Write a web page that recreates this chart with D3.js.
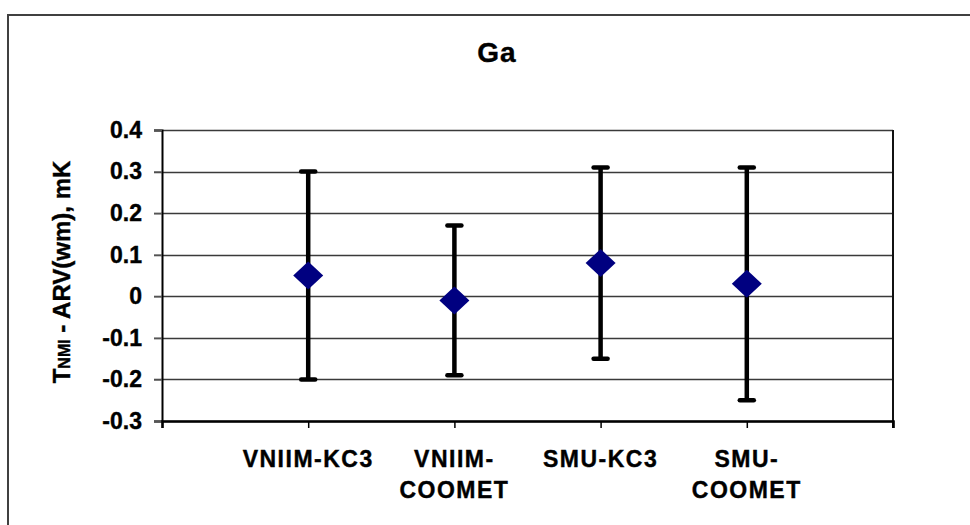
<!DOCTYPE html>
<html>
<head>
<meta charset="utf-8">
<script src="https://d3js.org/d3.v7.min.js"></script>
<style>
  body { margin: 0; background: #fff; }
  text { font-family: "Liberation Sans", Arial, sans-serif; font-weight: bold; fill: #000; stroke: #000; stroke-width: 0.4px; }
</style>
</head>
<body>
<div id="chart"></div>
<script>

// data
var categories = ["VNIIM-KC3", "VNIIM-COOMET", "SMU-KC3", "SMU-COOMET"];
var labelLines = [["VNIIM-KC3"], ["VNIIM-", "COOMET"], ["SMU-KC3"], ["SMU-", "COOMET"]];
var values = [0.05, -0.01, 0.08, 0.03];
var upper  = [0.30, 0.17, 0.31, 0.31];
var lower  = [-0.20, -0.19, -0.15, -0.25];
var yTicks = [-0.3, -0.2, -0.1, 0, 0.1, 0.2, 0.3, 0.4];

var width = 970, height = 525;
var margin = {top: 130, right: 77, bottom: 104, left: 162};

var svg = d3.select("#chart")
  .append("svg")
    .attr("width", width)
    .attr("height", height);

// outer chart frame (runs off the right/bottom edge)
svg.append("rect")
  .attr("x", 8).attr("y", 15)
  .attr("width", 1000).attr("height", 600)
  .attr("fill", "none")
  .attr("stroke", "#404040")
  .attr("stroke-width", 2);

// x: category positions sit on ticks 1..4 of a 0..5 axis
var x = d3.scaleLinear().domain([0, categories.length + 1]).range([margin.left, width - margin.right]);
var y = d3.scaleLinear().domain([-0.3, 0.4]).range([height - margin.bottom, margin.top]);

// gridlines
svg.append("g")
  .selectAll("line")
  .data(yTicks)
  .enter().append("line")
    .attr("x1", margin.left - 8)
    .attr("x2", width - margin.right)
    .attr("y1", function(d) { return Math.round(y(d)) + 0.5; })
    .attr("y2", function(d) { return Math.round(y(d)) + 0.5; })
    .attr("stroke", "#3a3a3a")
    .attr("stroke-width", 1.5);

// right border of plot area
svg.append("line")
  .attr("x1", width - margin.right).attr("x2", width - margin.right)
  .attr("y1", y(0.4)).attr("y2", y(-0.3) + 7)
  .attr("stroke", "#111").attr("stroke-width", 2);

// y axis
var yAxis = svg.append("g")
  .attr("transform", "translate(" + margin.left + ",0)")
  .call(d3.axisLeft(y).tickValues(yTicks).tickSize(8).tickPadding(12)
        .tickFormat(function(d) { return d === 0 ? "0" : d3.format(".1f")(d).replace("\u2212", "-"); }));
yAxis.select(".domain").attr("stroke", "#000").attr("stroke-width", 2);
yAxis.selectAll(".tick line").attr("stroke", "#555").attr("stroke-width", 1.5);
yAxis.selectAll(".tick text")
  .style("font-size", "23px")
  .style("font-family", "'Liberation Sans', Arial, sans-serif")
  .style("font-weight", "bold")
  .attr("fill", "#000");

// x axis
var xAxis = svg.append("g")
  .attr("transform", "translate(0," + y(-0.3) + ")")
  .call(d3.axisBottom(x).tickValues(d3.range(0, categories.length + 2)).tickSize(7).tickFormat(""));
xAxis.select(".domain").attr("stroke", "#000").attr("stroke-width", 2.5);
xAxis.selectAll(".tick line").attr("stroke", "#000").attr("stroke-width", 1.5);

// category labels
var lbl = svg.append("g")
  .selectAll("text")
  .data(labelLines)
  .enter().append("text")
    .attr("text-anchor", "middle")
    .style("font-size", "23px")
    .style("letter-spacing", "1.5px")
    .attr("y", 467);
lbl.selectAll("tspan")
  .data(function(d, i) { return d.map(function(t) { return {t: t, i: i}; }); })
  .enter().append("tspan")
    .attr("x", function(d) { return x(d.i + 1); })
    .attr("dy", function(d, j) { return j === 0 ? 0 : 31; })
    .text(function(d) { return d.t; });

// error bars
var bars = svg.append("g");
bars.selectAll(".stem")
  .data(values)
  .enter().append("line")
    .attr("x1", function(d, i) { return x(i + 1); })
    .attr("x2", function(d, i) { return x(i + 1); })
    .attr("y1", function(d, i) { return y(upper[i]); })
    .attr("y2", function(d, i) { return y(lower[i]); })
    .attr("stroke", "#000").attr("stroke-width", 4.5);
[upper, lower].forEach(function(arr) {
  bars.selectAll(null)
    .data(arr)
    .enter().append("line")
      .attr("x1", function(d, i) { return x(i + 1) - 7; })
      .attr("x2", function(d, i) { return x(i + 1) + 7; })
      .attr("y1", function(d) { return y(d); })
      .attr("y2", function(d) { return y(d); })
      .attr("stroke", "#000").attr("stroke-width", 4.5)
      .attr("stroke-linecap", "round");
});

// diamond markers
svg.append("g")
  .selectAll("path")
  .data(values)
  .enter().append("path")
    .attr("d", function(d, i) {
      var cx = x(i + 1), cy = y(d);
      return "M" + cx + "," + (cy - 14) + "L" + (cx + 15) + "," + cy +
             "L" + cx + "," + (cy + 14) + "L" + (cx - 15) + "," + cy + "Z";
    })
    .attr("fill", "#000080");

// title
svg.append("text")
  .attr("x", 497).attr("y", 62)
  .attr("text-anchor", "middle")
  .style("font-size", "28px")
  .style("letter-spacing", "1px")
  .text("Ga");

// y axis title with subscript
var yt = svg.append("text")
  .attr("transform", "translate(70," + 272 + ") rotate(-90)")
  .attr("text-anchor", "middle")
  .style("font-size", "24px");
yt.append("tspan").text("T");
yt.append("tspan").style("font-size", "16px").text("NMI");
yt.append("tspan").text(" - ARV(wm), mK");

</script>
</body>
</html>
